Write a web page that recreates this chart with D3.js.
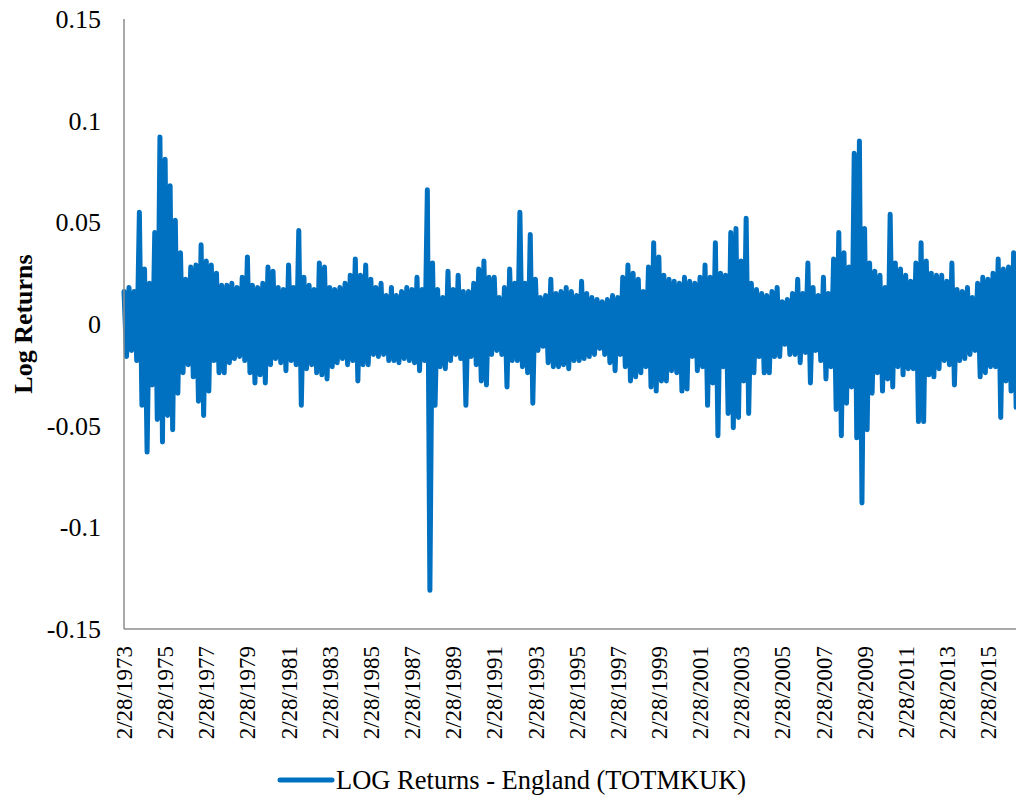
<!DOCTYPE html>
<html lang="en">

<head>
    <meta charset="UTF-8">
    <title>Log Returns - England</title>
    <script src="https://d3js.org/d3.v7.min.js"></script>
    <style>
        body {
            margin: 0;
            background: #fff;
        }

        text {
            font-family: "Liberation Serif", "Times New Roman", Times, serif;
            fill: #000;
        }
    </style>
</head>

<body>
    <div id="my_dataviz"></div>
    <script>
        // quarterly high / low of the daily log returns
        // first quarter starts 2/28/1973, one value per quarter
        var startDate = "2/28/1973";

        var highs = [
            0.016, 0.018, 0.016, 0.055, 0.027, 0.020, 0.045, 0.092,
            0.081, 0.068, 0.051, 0.035, 0.022, 0.028, 0.029, 0.039,
            0.031, 0.029, 0.025, 0.019, 0.019, 0.020, 0.018, 0.023,
            0.033, 0.019, 0.018, 0.020, 0.028, 0.026, 0.018, 0.017,
            0.029, 0.018, 0.046, 0.023, 0.019, 0.017, 0.030, 0.028,
            0.018, 0.017, 0.018, 0.020, 0.024, 0.032, 0.024, 0.029,
            0.022, 0.018, 0.020, 0.014, 0.018, 0.014, 0.016, 0.018,
            0.017, 0.023, 0.017, 0.066, 0.030, 0.017, 0.013, 0.026,
            0.017, 0.024, 0.016, 0.016, 0.020, 0.027, 0.031, 0.023,
            0.023, 0.013, 0.018, 0.027, 0.020, 0.055, 0.020, 0.044,
            0.022, 0.013, 0.014, 0.022, 0.015, 0.016, 0.018, 0.016,
            0.014, 0.021, 0.015, 0.013, 0.012, 0.011, 0.012, 0.014,
            0.013, 0.023, 0.029, 0.025, 0.022, 0.016, 0.028, 0.040,
            0.033, 0.024, 0.022, 0.021, 0.020, 0.023, 0.021, 0.020,
            0.023, 0.029, 0.023, 0.040, 0.025, 0.024, 0.045, 0.047,
            0.031, 0.052, 0.020, 0.017, 0.015, 0.014, 0.016, 0.018,
            0.011, 0.012, 0.015, 0.022, 0.015, 0.030, 0.018, 0.014,
            0.023, 0.015, 0.032, 0.045, 0.035, 0.028, 0.084, 0.090,
            0.047, 0.030, 0.026, 0.024, 0.018, 0.054, 0.030, 0.027,
            0.024, 0.021, 0.030, 0.040, 0.031, 0.025, 0.024, 0.024,
            0.021, 0.030, 0.017, 0.016, 0.018, 0.013, 0.020, 0.023,
            0.022, 0.025, 0.032, 0.027, 0.028, 0.035
        ];

        var lows = [
            -0.016, -0.013, -0.018, -0.040, -0.063, -0.030, -0.047, -0.058,
            -0.045, -0.052, -0.034, -0.024, -0.020, -0.026, -0.038, -0.045,
            -0.033, -0.018, -0.024, -0.024, -0.019, -0.017, -0.016, -0.018,
            -0.024, -0.029, -0.025, -0.029, -0.020, -0.017, -0.019, -0.023,
            -0.018, -0.020, -0.040, -0.022, -0.020, -0.024, -0.025, -0.027,
            -0.021, -0.019, -0.017, -0.020, -0.018, -0.028, -0.020, -0.020,
            -0.015, -0.016, -0.015, -0.018, -0.018, -0.019, -0.017, -0.018,
            -0.019, -0.023, -0.018, -0.131, -0.040, -0.021, -0.022, -0.018,
            -0.015, -0.017, -0.040, -0.016, -0.020, -0.028, -0.030, -0.015,
            -0.013, -0.015, -0.031, -0.018, -0.018, -0.021, -0.024, -0.039,
            -0.013, -0.011, -0.019, -0.021, -0.021, -0.020, -0.022, -0.018,
            -0.018, -0.017, -0.016, -0.015, -0.012, -0.015, -0.019, -0.023,
            -0.015, -0.021, -0.028, -0.026, -0.024, -0.021, -0.031, -0.033,
            -0.028, -0.028, -0.023, -0.024, -0.033, -0.032, -0.016, -0.023,
            -0.021, -0.040, -0.029, -0.055, -0.021, -0.044, -0.051, -0.046,
            -0.028, -0.044, -0.024, -0.016, -0.024, -0.024, -0.016, -0.016,
            -0.010, -0.015, -0.015, -0.019, -0.014, -0.029, -0.013, -0.018,
            -0.027, -0.021, -0.042, -0.055, -0.039, -0.031, -0.056, -0.088,
            -0.052, -0.034, -0.024, -0.033, -0.027, -0.031, -0.021, -0.025,
            -0.022, -0.022, -0.048, -0.048, -0.025, -0.026, -0.022, -0.018,
            -0.020, -0.030, -0.018, -0.017, -0.015, -0.013, -0.026, -0.024,
            -0.021, -0.021, -0.046, -0.028, -0.033, -0.041
        ];

        var xTickLabels = ["2/28/1973", "2/28/1975", "2/28/1977", "2/28/1979", "2/28/1981",
            "2/28/1983", "2/28/1985", "2/28/1987", "2/28/1989", "2/28/1991", "2/28/1993",
            "2/28/1995", "2/28/1997", "2/28/1999", "2/28/2001", "2/28/2003", "2/28/2005",
            "2/28/2007", "2/28/2009", "2/28/2011", "2/28/2013", "2/28/2015"];

        var yTicks = [0.15, 0.1, 0.05, 0, -0.05, -0.1, -0.15];
        var yTickLabels = ["0.15", "0.1", "0.05", "0", "-0.05", "-0.1", "-0.15"];

        var seriesName = "LOG Returns - England (TOTMKUK)";

        // plot box (note: "top" is taken by window.top, so use plot* names)
        var W = 1016, H = 801;
        var plotLeft = 124, plotRight = 1016, plotTop = 19, plotBottom = 629;
        var serif = "'Liberation Serif', 'Times New Roman', serif";

        var svg = d3.select("#my_dataviz")
            .append("svg")
            .attr("width", W)
            .attr("height", H);

        var parse = d3.timeParse("%m/%d/%Y");

        // X scale (date axis, first and last labelled tick)
        var x = d3.scaleTime()
            .domain([parse(xTickLabels[0]), parse(xTickLabels[xTickLabels.length - 1])])
            .range([plotLeft, 988]);

        var y = d3.scaleLinear()
            .domain([-0.15, 0.15])
            .range([plotBottom, plotTop]);

        // build a zig-zag: high at the quarter start, low half a quarter later
        var t0 = parse(startDate);
        var pts = [];
        highs.forEach(function (h, i) {
            var d = d3.timeMonth.offset(t0, 3 * i);
            pts.push([d, h]);
            pts.push([d3.timeDay.offset(d, 45), lows[i]]);
        });

        var line = d3.line()
            .x(function (d) { return x(d[0]); })
            .y(function (d) { return y(d[1]); });

        svg.append("path")
            .datum(pts)
            .attr("d", line)
            .attr("fill", "none")
            .attr("stroke", "#0070c0")
            .attr("stroke-width", 5)
            .attr("stroke-linejoin", "round")
            .attr("stroke-linecap", "round");

        // Y axis
        var yAxis = svg.append("g")
            .attr("transform", "translate(" + plotLeft + ",0)")
            .call(d3.axisLeft(y)
                .tickValues(yTicks)
                .tickSize(0)
                .tickPadding(23)
                .tickFormat(function (d, i) { return yTickLabels[i]; }))
            .attr("font-family", serif);
        yAxis.select(".domain").remove();
        yAxis.selectAll("text")
            .style("font-size", "26px")
            .style("font-family", serif)
            .attr("dy", "0.33em");

        // X axis
        var xAxis = svg.append("g")
            .attr("transform", "translate(0," + plotBottom + ")")
            .call(d3.axisBottom(x)
                .tickValues(xTickLabels.map(parse))
                .tickSize(0)
                .tickFormat(function (d, i) { return xTickLabels[i]; }))
            .attr("font-family", serif);
        xAxis.select(".domain").remove();
        xAxis.selectAll("text")
            .style("font-size", "23px")
            .style("font-family", serif)
            .style("text-anchor", "end")
            .attr("y", 0)
            .attr("dy", "0.33em")
            .attr("transform", "translate(0,17)rotate(-90)");

        // axis lines
        svg.append("line")
            .attr("x1", plotLeft).attr("x2", plotLeft)
            .attr("y1", plotTop).attr("y2", plotBottom)
            .attr("stroke", "#8c8c8c").attr("stroke-width", 1.5);
        svg.append("line")
            .attr("x1", plotLeft).attr("x2", plotRight)
            .attr("y1", plotBottom).attr("y2", plotBottom)
            .attr("stroke", "#8c8c8c").attr("stroke-width", 1.5);

        // Y title
        svg.append("text")
            .attr("transform", "translate(32," + y(0) + ")rotate(-90)")
            .attr("text-anchor", "middle")
            .style("font-size", "26px")
            .style("font-weight", "bold")
            .text("Log Returns");

        // legend
        svg.append("line")
            .attr("x1", 280).attr("x2", 332)
            .attr("y1", 780).attr("y2", 780)
            .attr("stroke", "#0070c0")
            .attr("stroke-width", 5)
            .attr("stroke-linecap", "round");
        svg.append("text")
            .attr("x", 336)
            .attr("y", 789)
            .style("font-size", "26.5px")
            .text(seriesName);
    </script>
</body>

</html>
